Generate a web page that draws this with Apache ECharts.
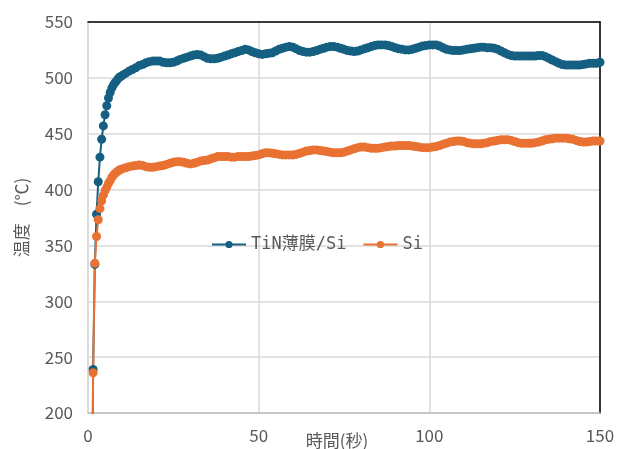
<!DOCTYPE html>
<html><head><meta charset="utf-8">
<script src="https://cdn.jsdelivr.net/npm/echarts@6/dist/echarts.min.js"></script>
<style>html,body{margin:0;padding:0;background:#fff}#c{width:620px;height:449px}</style>
</head><body><div id="c"></div>
<script>
const seriesNames = ["TiN薄膜/Si", "Si"];
const xTicks = [0, 50, 100, 150];
const yTicks = [200, 250, 300, 350, 400, 450, 500, 550];
const times = [1,1.5,2,2.5,3,3.5,4,4.5,5,5.5,6,6.5,7,7.5,8,8.5,9,9.5,10,
11,12,13,14,15,16,17,18,19,20,21,22,23,24,25,26,27,28,29,30,
31,32,33,34,35,36,37,38,39,40,41,42,43,44,45,46,47,48,49,50,
51,52,53,54,55,56,57,58,59,60,61,62,63,64,65,66,67,68,69,70,
71,72,73,74,75,76,77,78,79,80,81,82,83,84,85,86,87,88,89,90,
91,92,93,94,95,96,97,98,99,100,101,102,103,104,105,106,107,108,109,110,
111,112,113,114,115,116,117,118,119,120,121,122,123,124,125,126,127,128,129,130,
131,132,133,134,135,136,137,138,139,140,141,142,143,144,145,146,147,148,149,150];
const tinSi = [25,239,333,378,407,429,445,457,467,475,482,487,491,494,496,498,500,501,502,
504,506,507.5,509,511,512,513.5,514.5,515,515,515,514,513.5,513.5,514,515,516.5,517.5,518.5,519.5,
520.5,521,520.5,519,517.5,517,517,517.5,518.5,519.5,520.5,521.5,522.5,523.5,524.5,525.5,525,523.5,522.5,521.5,
521,521.5,522,522.5,524,525.5,526.5,527.5,528,527.5,526,524.5,523.5,523,523,523.5,524.5,525.5,526.5,527.5,
528,528,527.5,526.5,525.5,524.5,524,523.5,524,525,526,527,528,529,529.5,529.5,529.5,529,528,527,
526,525.5,525,525,525.5,526.5,527.5,528.5,529,529.5,529.5,529.5,528.5,527,525.5,525,524.5,524.5,524.5,525,
525.5,526,526.5,527,527.5,527.5,527,527,526.5,525.5,524,522.5,521,520,519.5,519.5,519.5,519.5,519.5,519.5,
519.5,520,520,519,517.5,516,514.5,513,512,511.5,511.5,511.5,511.5,511.5,512,512.5,513,513,513,514];
const si = [25,236,334,358,373,383,390,395,399,402,405.5,408,411,413,414.5,416,417,418,418.5,
419.5,420.5,421,421.5,422,421.5,420.5,420,420,420.5,421,421.5,422.5,423.5,424.5,425,425,424.5,423.5,423,
423.5,424.5,425.5,426,426.5,427.5,428.5,429.5,429.5,429.5,429.5,429,429,429.5,429.5,429.5,429.5,430,430.5,431,
432,433,433,432.5,432,431.5,431,431,431,431,431.5,432.5,433.5,434.5,435,435.5,435.5,435,434.5,434,
433.5,433,433,433,433.5,434.5,435.5,436.5,437.5,438,438,437.5,437,437,437,437.5,438,438.5,439,439,
439.5,439.5,439.5,439.5,439,438.5,438,437.5,437.5,437.5,438,438.5,439.5,440.5,441.5,442.5,443,443.5,443.5,443,
442,441.5,441,441,441,441.5,442,443,443.5,444,444.5,444.5,444.5,444,443,442,441.5,441.5,441.5,441.5,
442,442.5,443.5,444.5,445,445.5,446,446,446,446,445.5,445,444,443,442.5,442.5,443,443.5,443.5,443.5];

const pairs = (vals) => times.map((t, i) => [t, vals[i]]);
const txt = '#595959';
const font = 'Noto Sans CJK JP';
const chart = echarts.init(document.getElementById('c'), null, {renderer: 'canvas'});
chart.setOption({
  animation: false,
  backgroundColor: '#fff',
  grid: {left: 88, right: 20, top: 22, bottom: 36, containLabel: false, outerBoundsMode: 'none'},
  legend: {
    left: 206, top: 231,
    itemWidth: 34, itemHeight: 9, itemGap: 16,
    textStyle: {color: txt, fontSize: 17, fontFamily: 'DejaVu Sans Mono, Noto Sans CJK JP'},
    data: seriesNames
  },
  xAxis: [{
    type: 'value', min: xTicks[0], max: xTicks[xTicks.length - 1], interval: 50,
    name: '時間(秒)', nameLocation: 'middle', nameGap: 19, nameMoveOverlap: false,
    nameTextStyle: {color: txt, fontSize: 17, fontFamily: font, padding: [0, 14, 0, 0]},
    axisLine: {show: true, lineStyle: {color: '#bfbfbf', width: 1.5}},
    axisTick: {show: false},
    axisLabel: {color: txt, fontSize: 17, fontFamily: font, margin: 14},
    splitLine: {show: true, lineStyle: {color: '#d9d9d9', width: 1.5}}
  }, {
    type: 'value', position: 'top', min: 0, max: 150,
    axisLine: {show: true, onZero: false, lineStyle: {color: '#000', width: 1.5}},
    axisTick: {show: false}, axisLabel: {show: false}, splitLine: {show: false}
  }],
  yAxis: [{
    type: 'value', min: yTicks[0], max: yTicks[yTicks.length - 1], interval: 50,
    name: '温度　(℃)', nameLocation: 'middle', nameGap: 58, nameRotate: 90, nameMoveOverlap: false,
    nameTextStyle: {color: txt, fontSize: 17, fontFamily: font},
    axisLine: {show: true, lineStyle: {color: '#d9d9d9', width: 1.5}},
    axisTick: {show: false},
    axisLabel: {color: txt, fontSize: 17, fontFamily: font, margin: 15},
    splitLine: {show: true, lineStyle: {color: '#d9d9d9', width: 1.5}}
  }, {
    type: 'value', position: 'right', min: 200, max: 550,
    axisLine: {show: true, onZero: false, lineStyle: {color: '#000', width: 1.5}},
    axisTick: {show: false}, axisLabel: {show: false}, splitLine: {show: false}
  }],
  series: [{
    name: seriesNames[0], type: 'line', xAxisIndex: 0, yAxisIndex: 0,
    data: pairs(tinSi), symbol: 'circle', symbolSize: 9, showSymbol: true,
    color: '#156082', lineStyle: {width: 2}, clip: true
  }, {
    name: seriesNames[1], type: 'line', xAxisIndex: 0, yAxisIndex: 0,
    data: pairs(si), symbol: 'circle', symbolSize: 9, showSymbol: true,
    color: '#E97132', lineStyle: {width: 2}, clip: true
  }]
});
</script></body></html>
